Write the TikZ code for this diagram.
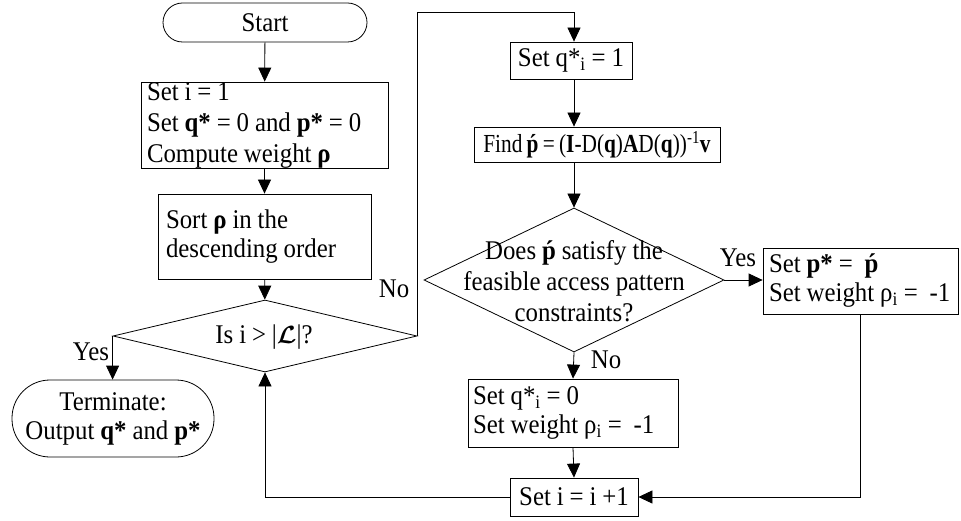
\documentclass[tikz,border=0pt]{standalone}
\usepackage{fontspec}
\setmainfont{Liberation Serif}[FakeStretch=0.92, WordSpace=0.95]
\newfontfamily\narrowfont{Liberation Serif}[FakeStretch=0.82, WordSpace=0.8]
\usepackage{bm}
\usetikzlibrary{arrows.meta,shapes.geometric}

% one left-aligned line of fixed width inside a process box
\newcommand{\boxline}[2]{\makebox[#1][l]{#2}}

\tikzset{
  every node/.style={font=\fontsize{27}{29}\selectfont},
  line/.style={line width=0.8pt, draw=black},
  arr/.style={line, -{Triangle[length=14pt,width=13pt]}},
  proc/.style={draw, line width=0.8pt, rectangle, inner sep=0pt, align=center},
  lproc/.style={draw, line width=0.8pt, rectangle, inner ysep=0pt, inner xsep=6pt, align=left},
  terminal/.style={draw, line width=0.8pt, rectangle, inner sep=0pt, align=center},
  decision/.style={draw, line width=0.8pt, diamond, inner sep=0pt},
  lbl/.style={inner sep=0pt}
}

\begin{document}
\begin{tikzpicture}[x=1pt,y=-1pt]
  \useasboundingbox (0,0) rectangle (961,521);

  % left column
  \node[terminal, rounded corners=19.5pt, minimum width=204pt, minimum height=39pt] (start) at (265,22.5) {Start};
  \node[lproc, minimum height=86pt, font=\fontsize{27}{31}\selectfont] (init) at (264.5,125)
    {\boxline{235pt}{Set i = 1}\\\boxline{235pt}{Set \textbf{q*} = 0 and \textbf{p*} = 0}\\\boxline{235pt}{Compute weight \textbf{ρ}}};
  \node[lproc, inner xsep=8pt, minimum height=85pt] (sort) at (264.5,236.5)
    {\boxline{197pt}{Sort \textbf{ρ} in the}\\\boxline{197pt}{descending order}};
  \node[decision, minimum width=304pt, minimum height=72pt] (chk) at (265,336) {};
  \node[lbl] (chktxt) at (264,337) {Is i > |$\bm{\mathcal{L}}$|?};
  \node[terminal, rounded corners=38pt, minimum width=202pt, minimum height=77pt] (stop) at (113,418.5)
    {Terminate:\\Output \textbf{q*} and \textbf{p*}};

  % right column
  \node[proc, minimum width=122pt, minimum height=37pt] (setone) at (571,60.5) {Set q*\textsubscript{i} = 1};
  \node[proc, minimum width=246pt, minimum height=35pt, font=\narrowfont\fontsize{26}{28}\selectfont] (find) at (597,144.5)
    {Find \textbf{ṕ} = (\textbf{I}-D(\textbf{q})\textbf{A}D(\textbf{q}))\textsuperscript{-1}\textbf{v}};
  \node[decision, minimum width=300pt, minimum height=144pt] (feas) at (574,280) {};
  \node[lbl, align=center, font=\fontsize{27}{31}\selectfont] (feastxt) at (574,281)
    {Does \textbf{ṕ} satisfy the\\feasible access pattern\\constraints?};
  \node[lproc, minimum height=66pt] (accept) at (860.5,281)
    {\boxline{183pt}{Set \textbf{p*} =\ \ \textbf{ṕ}}\\\boxline{183pt}{Set weight ρ\textsubscript{i} =\ \ -1}};
  \node[lproc, inner xsep=5pt, minimum height=68pt] (reject) at (573,413)
    {\boxline{200pt}{Set q*\textsubscript{i} = 0}\\\boxline{200pt}{Set weight ρ\textsubscript{i} =\ \ -1}};
  \node[proc, minimum width=128pt, minimum height=38pt] (next) at (574,497) {Set i = i +1};

  \coordinate (topturn) at (0,12);

  % connectors
  \draw[arr] (start) -- (init);
  \draw[arr] (init) -- (sort);
  \draw[arr] (sort) -- (chk);
  \draw[arr] (chk.west) -- (chk.west |- stop.north);
  \draw[arr] (chk.east) |- (feas.north |- topturn) -- (feas.north |- setone.north);
  \draw[arr] (feas.north |- setone.south) -- (feas.north |- find.north);
  \draw[arr] (feas.north |- find.south) -- (feas.north);
  \draw[arr] (feas.east) -- (feas.east -| accept.west);
  \draw[arr] (feas.south) -- (reject.north);
  \draw[arr] (reject.south) -- (next.north);
  \draw[arr] (accept.south) |- (next.east);
  \draw[arr] (next.west) -| (chk.south);

  % branch labels
  \node[lbl] (yesl) at (91,352) {Yes};
  \node[lbl] (nol) at (394,289) {No};
  \node[lbl] (yesr) at (738,258) {Yes};
  \node[lbl] (nor) at (606,360) {No};
\end{tikzpicture}
\end{document}
